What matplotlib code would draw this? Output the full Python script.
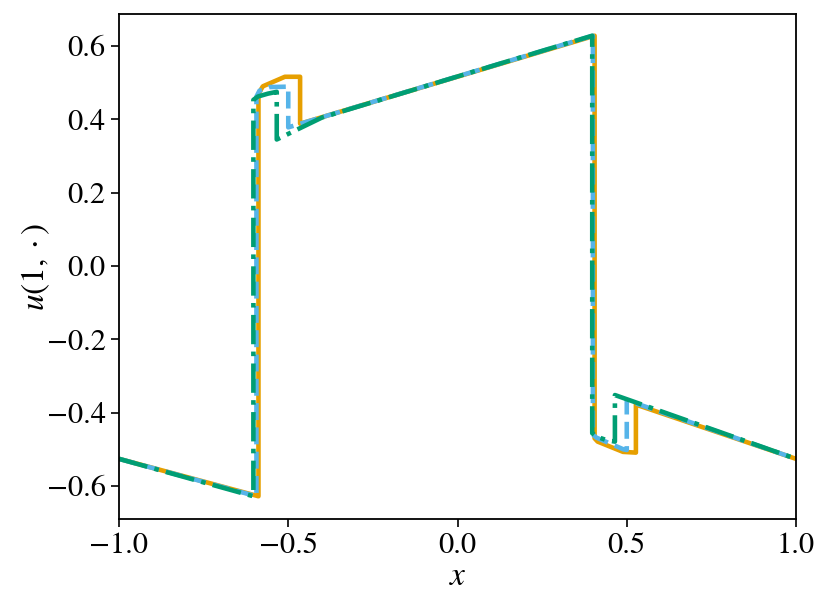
import matplotlib
matplotlib.use("Agg")
import matplotlib.pyplot as plt
import numpy as np

plt.rcParams["font.family"] = ["STIXGeneral", "DejaVu Serif"]
plt.rcParams["mathtext.fontset"] = "stix"

# u(1, x), one series per scheme
x_orange = [-1.0, -0.588, -0.588, -0.575, -0.51, -0.465, -0.465, 0.405, 0.405, 0.414, 0.489, 0.527, 0.527, 1.0]
u_orange = [-0.526, -0.628, 0.47, 0.49, 0.516, 0.516, 0.388, 0.628, -0.47, -0.479, -0.507, -0.509, -0.378, -0.526]

x_blue = [-1.0, -0.594, -0.594, -0.585, -0.555, -0.5, -0.5, 0.40, 0.40, 0.41, 0.49, 0.5, 0.5, 1.0]
u_blue = [-0.526, -0.628, 0.462, 0.478, 0.488, 0.489, 0.378, 0.628, -0.46, -0.468, -0.5, -0.502, -0.366, -0.526]

x_green = [-1.0, -0.603, -0.603, -0.59, -0.56, -0.534, -0.534, -0.40, 0.398, 0.398, 0.41, 0.44, 0.465, 0.465, 1.0]
u_green = [-0.526, -0.628, 0.453, 0.462, 0.47, 0.475, 0.345, 0.405, 0.628, -0.456, -0.465, -0.475, -0.479, -0.352, -0.526]

fig = plt.figure(figsize=(8.31, 6.12), dpi=100)
ax = fig.add_axes([0.1432, 0.152, 0.8147, 0.825])

ax.plot(x_orange, u_orange, "-", color="#E69F00", lw=3.3, solid_joinstyle="round")
ax.plot(x_blue, u_blue, "--", color="#56B4E9", lw=3.3, dash_joinstyle="round")
ax.plot(x_green, u_green, "-.", color="#009E73", lw=3.3, dash_joinstyle="round")

ax.set_xlim(-1, 1)
ax.set_ylim(-0.69, 0.687)
ax.set_xticks([-1.0, -0.5, 0.0, 0.5, 1.0])
ax.set_yticks([-0.6, -0.4, -0.2, 0.0, 0.2, 0.4, 0.6])
ax.tick_params(labelsize=22, length=6, width=1.2)
for s in ax.spines.values():
    s.set_linewidth(1.3)

ax.set_xlabel(r"$x$", fontsize=24, labelpad=2)
ax.set_ylabel(r"$u(1,\cdot)$", fontsize=24, labelpad=-4)

fig.savefig("out.png", dpi=100)
